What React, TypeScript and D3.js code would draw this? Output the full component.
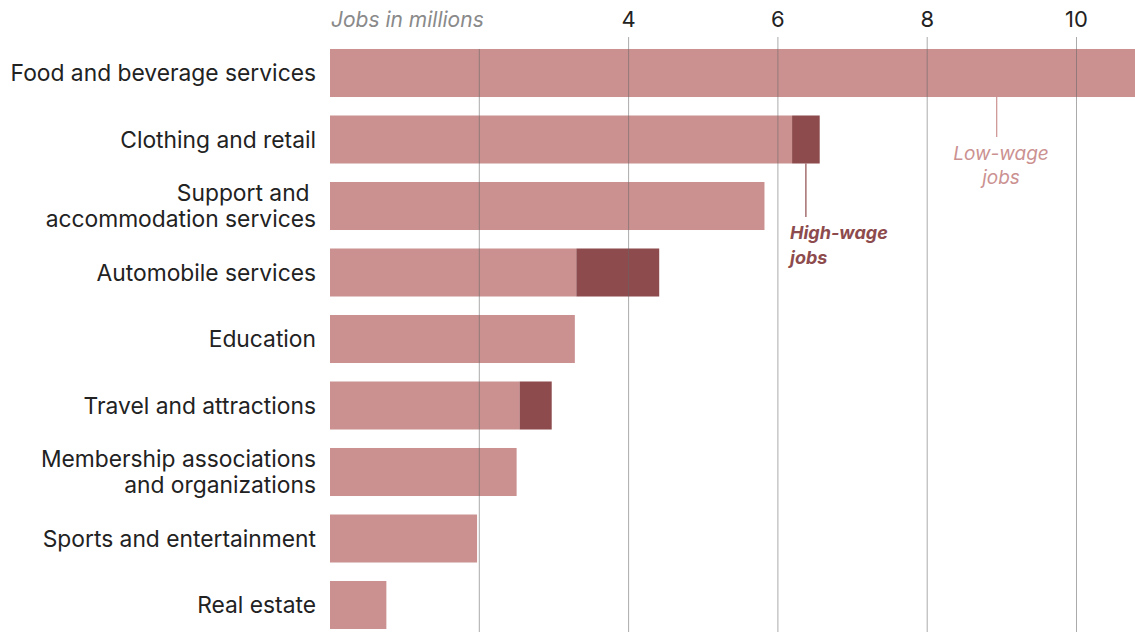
import React from "react";
import * as d3 from "d3";

const categories = [
  "Food and beverage services",
  "Clothing and retail",
  "Support and\u00a0\naccommodation services",
  "Automobile services",
  "Education",
  "Travel and attractions",
  "Membership associations\nand organizations",
  "Sports and entertainment",
  "Real estate",
];
const lowWage = [11.0, 6.19, 5.82, 3.3, 3.28, 2.54, 2.5, 1.97, 0.755];
const highWage = [0, 0.37, 0, 1.11, 0, 0.43, 0, 0, 0];
const tickValues = [2, 4, 6, 8, 10];

const W = 1135;
const H = 632;
const LOW = "#cb9191";
const HIGH = "#8d4b4d";
const FONT = "Inter, 'Noto Sans', sans-serif";

export default function App() {
  const x = d3.scaleLinear().domain([0, 2]).range([330, 479.3]);
  const y = d3
    .scaleBand<string>()
    .domain(categories)
    .range([39.75, 638.25])
    .paddingInner(0.278)
    .paddingOuter(0.139);
  const bw = y.bandwidth();

  return (
    <svg
      width={W}
      height={H}
      style={{ position: "absolute", left: 0, top: 0, background: "#fff" }}
      fontFamily={FONT}
    >
      {categories.map((c, i) => {
        const y0 = y(c)!;
        return (
          <g key={c}>
            <rect x={x(0)} y={y0} width={x(lowWage[i]) - x(0)} height={bw} fill={LOW} />
            {highWage[i] > 0 && (
              <rect
                x={x(lowWage[i])}
                y={y0}
                width={x(lowWage[i] + highWage[i]) - x(lowWage[i])}
                height={bw}
                fill={HIGH}
              />
            )}
          </g>
        );
      })}
      {tickValues.map((t, i) => (
        <g key={t}>
          <line
            x1={x(t)}
            x2={x(t)}
            y1={i === 0 ? y(categories[0])! : 37}
            y2={H}
            stroke="#666"
            strokeOpacity={0.55}
            strokeWidth={1}
          />
          {i > 0 && (
            <text x={x(t)} y={27} textAnchor="middle" fontSize={22} fill="#222">
              {t}
            </text>
          )}
        </g>
      ))}
      <text x={331} y={27} fontSize={21} fontStyle="italic" fill="#8a8a8a">
        Jobs in millions
      </text>
      {categories.map((c) => {
        const lines = c.split("\n");
        const cy = y(c)! + bw / 2;
        const lh = 26;
        return (
          <text
            key={c}
            x={316}
            textAnchor="end"
            fontSize={22.8}
            fill="#222"
            style={{ whiteSpace: "pre" }}
          >
            {lines.map((l, j) => (
              <tspan key={j} x={316} y={cy + 8 + (j - (lines.length - 1) / 2) * lh}>
                {l}
              </tspan>
            ))}
          </text>
        );
      })}
      {/* Low-wage annotation */}
      <line
        x1={996.7}
        x2={996.7}
        y1={y(categories[0])! + bw}
        y2={137}
        stroke={LOW}
        strokeWidth={1.2}
      />
      <text x={1001} textAnchor="middle" fontSize={19} fontStyle="italic" fill={LOW}>
        <tspan x={1001} y={160}>Low-wage</tspan>
        <tspan x={1001} y={184}>jobs</tspan>
      </text>
      {/* High-wage annotation */}
      <line
        x1={x(lowWage[1] + highWage[1] / 2)}
        x2={x(lowWage[1] + highWage[1] / 2)}
        y1={y(categories[1])! + bw}
        y2={217}
        stroke={HIGH}
        strokeWidth={1.2}
      />
      <text x={790} fontSize={18} fontStyle="italic" fontWeight={700} fill={HIGH}>
        <tspan x={790} y={239}>High-wage</tspan>
        <tspan x={790} y={264}>jobs</tspan>
      </text>
    </svg>
  );
}
